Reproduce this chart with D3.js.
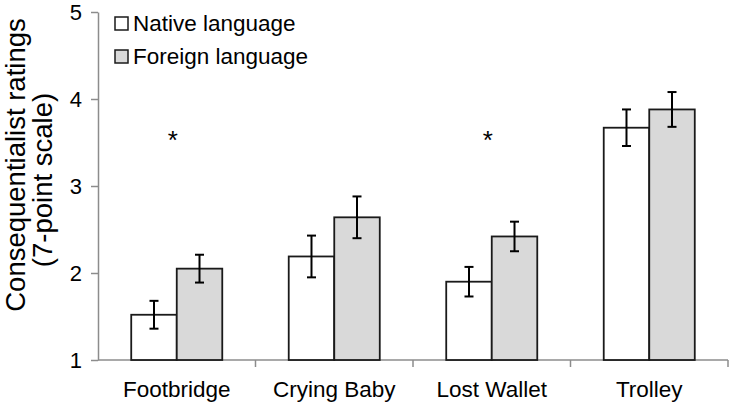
<!DOCTYPE html>
<html>
<head>
<meta charset="utf-8">
<script src="https://cdn.jsdelivr.net/npm/d3@7"></script>
<style>
  html, body { margin: 0; padding: 0; background: #fff; }
  svg { display: block; font-family: Arial, "Liberation Sans", sans-serif; }
</style>
</head>
<body>
<svg id="chart" width="733" height="403"></svg>
<script>
const categories = ["Footbridge", "Crying Baby", "Lost Wallet", "Trolley"];
const seriesNames = ["Native language", "Foreign language"];
const nativeValues = [1.52, 2.19, 1.90, 3.67];
const foreignValues = [2.05, 2.64, 2.42, 3.88];
const nativeErrors = [0.16, 0.24, 0.17, 0.21];
const foreignErrors = [0.16, 0.24, 0.17, 0.20];
const significant = [true, false, true, false];
const yTicks = [1, 2, 3, 4, 5];
const yTitleLines = ["Consequentialist ratings", "(7-point scale)"];

const fills = ["#ffffff", "#d9d9d9"];
const axisColor = "#8c8c8c";

const svg = d3.select("#chart");
const mLeft = 98, mRight = 728, mTop = 12, mBottom = 360;

const y = d3.scaleLinear().domain([1, 5]).range([mBottom, mTop]);
const x = d3.scaleBand().domain(categories).range([mLeft, mRight])
  .paddingInner(0.422).paddingOuter(0.211);
const xs = d3.scaleBand().domain(seriesNames).range([0, x.bandwidth()]);

// Y axis
const yAxis = d3.axisLeft(y).tickValues(yTicks).tickSize(7).tickSizeOuter(0).tickPadding(9)
  .tickFormat(d3.format("d"));
const gy = svg.append("g").attr("transform", `translate(${mLeft},0)`).call(yAxis);
gy.select(".domain").attr("stroke", axisColor).attr("stroke-width", 1.5);
gy.selectAll(".tick line").attr("stroke", axisColor).attr("stroke-width", 1.5);
gy.selectAll(".tick text").attr("fill", "#000").attr("font-size", 22)
  .attr("font-family", "Arial, 'Liberation Sans', sans-serif");

// X axis line with boundary ticks
const step = x.step();
const boundaries = d3.range(categories.length + 1).map(i => mLeft + i * step);
svg.append("line").attr("x1", mLeft).attr("x2", mRight).attr("y1", y(1)).attr("y2", y(1))
  .attr("stroke", axisColor).attr("stroke-width", 1.5);
svg.append("g").selectAll("line").data(boundaries.slice(1)).join("line")
  .attr("x1", d => d).attr("x2", d => d).attr("y1", y(1)).attr("y2", y(1) + 7)
  .attr("stroke", axisColor).attr("stroke-width", 1.5);
svg.append("g").selectAll("text").data(categories).join("text")
  .attr("x", d => x(d) + x.bandwidth() / 2).attr("y", 397)
  .attr("text-anchor", "middle").attr("font-size", 22.5).attr("fill", "#000")
  .text(d => d);

// Bars
const rows = categories.map((c, i) => ({
  cat: c,
  vals: [
    { s: seriesNames[0], v: nativeValues[i], e: nativeErrors[i], k: 0 },
    { s: seriesNames[1], v: foreignValues[i], e: foreignErrors[i], k: 1 }
  ]
}));
const groups = svg.append("g").selectAll("g").data(rows).join("g")
  .attr("transform", d => `translate(${x(d.cat)},0)`);
groups.selectAll("rect").data(d => d.vals).join("rect")
  .attr("x", d => xs(d.s)).attr("width", xs.bandwidth())
  .attr("y", d => y(d.v)).attr("height", d => y(1) - y(d.v))
  .attr("fill", d => fills[d.k]).attr("stroke", "#1a1a1a").attr("stroke-width", 1.8);

// Error bars
const cap = 4.5;
const eb = groups.selectAll("g.err").data(d => d.vals).join("g").attr("class", "err")
  .attr("stroke", "#000").attr("stroke-width", 2);
eb.append("line")
  .attr("x1", d => xs(d.s) + xs.bandwidth() / 2).attr("x2", d => xs(d.s) + xs.bandwidth() / 2)
  .attr("y1", d => y(d.v + d.e)).attr("y2", d => y(d.v - d.e));
eb.append("line")
  .attr("x1", d => xs(d.s) + xs.bandwidth() / 2 - cap).attr("x2", d => xs(d.s) + xs.bandwidth() / 2 + cap)
  .attr("y1", d => y(d.v + d.e)).attr("y2", d => y(d.v + d.e));
eb.append("line")
  .attr("x1", d => xs(d.s) + xs.bandwidth() / 2 - cap).attr("x2", d => xs(d.s) + xs.bandwidth() / 2 + cap)
  .attr("y1", d => y(d.v - d.e)).attr("y2", d => y(d.v - d.e));

// Significance asterisks
svg.append("g").selectAll("text").data(categories.filter((c, i) => significant[i])).join("text")
  .attr("x", d => x(d) + x.bandwidth() / 2 - 4).attr("y", y(3.43))
  .attr("text-anchor", "middle").attr("font-size", 26).attr("fill", "#000")
  .text("*");

// Legend
const legend = svg.append("g").selectAll("g").data(seriesNames).join("g")
  .attr("transform", (d, i) => `translate(115,${17 + i * 33})`);
legend.append("rect").attr("width", 13).attr("height", 13)
  .attr("fill", (d, i) => fills[i]).attr("stroke", "#1a1a1a").attr("stroke-width", 1.5);
legend.append("text").attr("x", 18).attr("y", 14).attr("font-size", 22.5).attr("fill", "#000")
  .text(d => d);

// Y title
const yt = svg.append("text").attr("transform", "rotate(-90)")
  .attr("text-anchor", "middle").attr("font-size", 27.5).attr("fill", "#000");
yt.selectAll("tspan").data(yTitleLines).join("tspan")
  .attr("x", (d, i) => -(i === 0 ? 165 : 180)).attr("y", (d, i) => 25 + i * 27)
  .text(d => d);
</script>
</body>
</html>
